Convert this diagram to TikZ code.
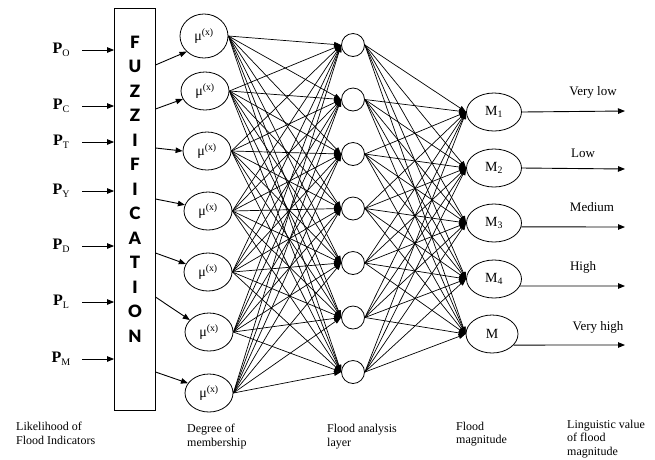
\documentclass[tikz,border=0pt]{standalone}
\usepackage{fontspec}
\setmainfont{Liberation Serif}
\newfontfamily\heavyfont{Lato Black}
\usetikzlibrary{arrows.meta,shapes.geometric}
\begin{document}
\begin{tikzpicture}[x=1pt,y=-1pt,
  arr/.style={-{Triangle[length=7pt,width=5.5pt]}, line width=0.9pt},
  conn/.style={-{Triangle[length=7pt,width=5pt]}, line width=0.7pt},
  mem/.style={draw, ellipse, line width=0.8pt, minimum width=48pt, minimum height=38pt, inner sep=0pt, font=\fontsize{14}{14}\selectfont},
  hid/.style={draw, circle, minimum size=23pt, inner sep=0pt, line width=0.8pt},
  outn/.style={draw, ellipse, minimum width=55pt, minimum height=38pt, inner sep=0pt, line width=0.8pt, font=\fontsize{14}{14}\selectfont},
  plab/.style={inner sep=0pt, font=\fontsize{16}{16}\selectfont},
  vlab/.style={inner sep=0pt, font=\fontsize{13}{13}\selectfont},
  blab/.style={inner sep=0pt, anchor=west, align=left, font=\fontsize{12}{13.5}\selectfont},
  fzl/.style={inner sep=0pt, font=\heavyfont\fontsize{17}{17}\selectfont}
]
\useasboundingbox (0,0) rectangle (655,459);

% fuzzification box
\node[draw, line width=0.8pt, minimum width=41pt, minimum height=402pt, inner sep=0pt] (fz) at (135,209) {};
\foreach \t [count=\k from 0] in {F,U,Z,Z,I,F,I,C,A,T,I,O,N}
  \node[fzl] (fl\k) at (135,{42+24.5*\k}) {\t};

% inputs
\newcommand{\Plab}[1]{\textbf{P}\raisebox{-2.5pt}{\fontsize{10}{10}\selectfont #1}}
\foreach \s/\y in {O/50, C/106, T/142, Y/191, D/246, L/302, M/359} {
  \node[plab] (p\s) at (61,\y) {\Plab{\s}};
  \coordinate (i\s) at (82,\y);
  \draw[arr] (i\s) -- (i\s -| fz.west);
}

% membership ellipses
\node[mem, minimum height=44pt] (m1) at (204,36) {μ\textsuperscript{(x)}};
\node[mem] (m2) at (205,91) {μ\textsuperscript{(x)}};
\node[mem] (m3) at (207,151) {μ\textsuperscript{(x)}};
\node[mem] (m4) at (208,211) {μ\textsuperscript{(x)}};
\node[mem] (m5) at (208,272) {μ\textsuperscript{(x)}};
\node[mem] (m6) at (209,332) {μ\textsuperscript{(x)}};
\node[mem] (m7) at (209,393) {μ\textsuperscript{(x)}};

% box -> membership
\coordinate (f1) at (155.5,65);
\coordinate (f2) at (155.5,109);
\coordinate (f3) at (155.5,148);
\coordinate (f4) at (155.5,199);
\coordinate (f5) at (155.5,253);
\coordinate (f6) at (155.5,297);
\coordinate (f7) at (155.5,372);
\draw[arr] (f1) -- (m1.222);
\draw[arr] (f2) -- (m2.200);
\draw[arr] (f3) -- (m3.180);
\draw[arr] (f4) -- (m4.165);
\draw[arr] (f5) -- (m5.160);
\draw[arr] (f6) -- (m6.148);
\draw[arr] (f7) -- (m7.155);

% hidden layer
\foreach \j in {1,...,7}
  \node[hid] (h\j) at (353,{45+54.5*(\j-1)}) {};

% outputs
\node[outn] (o1) at (494,112) {M\textsubscript{1}};
\node[outn] (o2) at (494,168) {M\textsubscript{2}};
\node[outn] (o3) at (494,223) {M\textsubscript{3}};
\node[outn] (o4) at (494,279) {M\textsubscript{4}};
\node[outn, minimum width=52pt] (o5) at (492,334) {M};

% full connections
\foreach \i in {1,...,7}
  \foreach \j in {1,...,7}
    \draw[conn] (m\i.east) -- (h\j.west);
\foreach \i in {1,...,7}
  \foreach \j in {1,...,5}
    \draw[conn] (h\i.east) -- (o\j.west);

% output arrows
\coordinate (e1) at (625,111);
\coordinate (e2) at (625,169);
\coordinate (e3) at (625,227);
\coordinate (e4) at (625,286);
\coordinate (e5) at (625,345);
\draw[arr] (o1.east) -- (e1);
\draw[arr] (o2.east) -- (e2);
\draw[arr] (o3.-8) -- (e3);
\draw[arr] (o4.-15) -- (e4);
\draw[arr] (o5.-27) -- (e5);

\node[vlab] (v1) at (593,92) {Very low};
\node[vlab] (v2) at (583,153) {Low};
\node[vlab] (v3) at (592,207) {Medium};
\node[vlab] (v4) at (583,267) {High};
\node[vlab] (v5) at (598,327) {Very high};

% bottom labels
\node[blab] (b1) at (16,433.5) {Likelihood of\\Flood Indicators};
\node[blab] (b2) at (187,436.5) {Degree of\\membership};
\node[blab] (b3) at (327,436.5) {Flood analysis\\layer};
\node[blab] (b4) at (456,434) {Flood\\magnitude};
\node[blab] (b5) at (567,439) {Linguistic value\\of flood\\magnitude};
\end{tikzpicture}
\end{document}
